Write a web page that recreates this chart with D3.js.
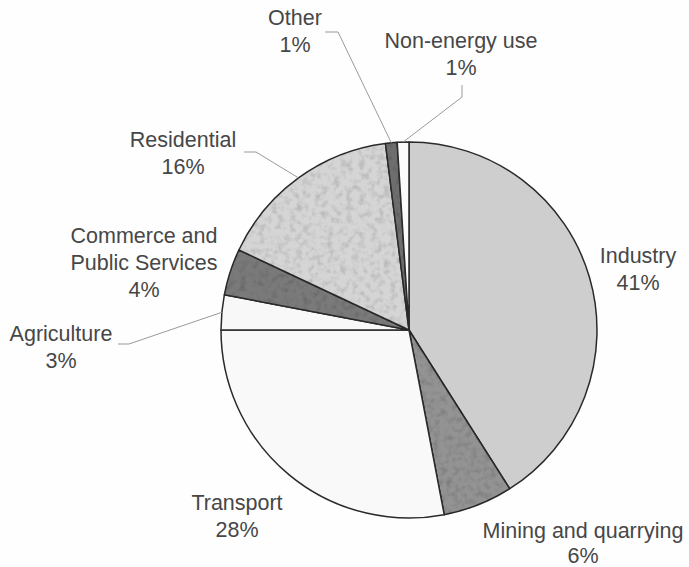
<!DOCTYPE html>
<html>
<head>
<meta charset="utf-8">
<script src="https://cdn.jsdelivr.net/npm/d3@7/dist/d3.min.js"></script>
<style>
  html, body { margin: 0; padding: 0; background: #fefefe; }
  svg { display: block; }
  text { font-family: "Liberation Sans", Arial, sans-serif; font-size: 21.5px; fill: #474747; }
</style>
</head>
<body>
<svg id="chart" width="689" height="567"></svg>
<script>
// Final energy consumption by sector (share, %)
const sectors = ["Industry", "Mining and quarrying", "Transport", "Agriculture",
                 "Commerce and\nPublic Services", "Residential", "Other", "Non-energy use"];
const shares  = [41, 6, 28, 3, 4, 16, 1, 1];

// Fill of each slice and whether it gets the mottled texture
const fills   = ["#cecece", "#939393", "#f9f9f9", "#f8f8f8", "#7a7a7a", "#d5d5d5", "#6e6e6e", "#fbfbfb"];
const mottled = [false, true, false, false, true, true, true, false];

// Label anchors (centre of first text line), line spacing and leader-line elbows
const labelPos = [
  [638, 255], [583, 530], [237, 502], [61, 333],
  [144, 235], [183, 139], [295, 17], [461, 40]
];
const lineGap = [27, 25, 27, 27, 27, 27, 27, 27];
const leaders = [
  null, null, null,
  [[118, 344], [129, 344]],
  null,
  [[244, 152], [256, 152]],
  [[325, 32], [338, 32]],
  [[462, 85], [462, 97]]
];

const svg = d3.select("#chart");
const cx = 409, cy = 330, R = 188;

// Grainy texture for the patterned slices
const defs = svg.append("defs");
const f = defs.append("filter").attr("id", "mottle")
  .attr("x", "-5%").attr("y", "-5%").attr("width", "110%").attr("height", "110%");
f.append("feTurbulence").attr("type", "fractalNoise").attr("baseFrequency", 0.16)
  .attr("numOctaves", 2).attr("seed", 4).attr("result", "noise");
f.append("feColorMatrix").attr("in", "noise").attr("type", "matrix")
  .attr("values", "0 0 0 0 0  0 0 0 0 0  0 0 0 0 0  0 0 0 -2.2 1.25")
  .attr("result", "spots");
f.append("feComposite").attr("in", "spots").attr("in2", "SourceGraphic")
  .attr("operator", "in").attr("result", "spotsIn");
f.append("feComponentTransfer").attr("in", "spotsIn").attr("result", "spotsSoft")
  .append("feFuncA").attr("type", "linear").attr("slope", 0.3);
const m = f.append("feMerge");
m.append("feMergeNode").attr("in", "SourceGraphic");
m.append("feMergeNode").attr("in", "spotsSoft");

const pie = d3.pie().sort(null).value(d => d).startAngle(0).endAngle(2 * Math.PI);
const arcs = pie(shares);
const arc = d3.arc().innerRadius(0).outerRadius(R);

const g = svg.append("g").attr("transform", `translate(${cx},${cy})`);

g.selectAll("path.slice")
  .data(arcs)
  .join("path")
  .attr("class", "slice")
  .attr("d", arc)
  .attr("fill", (d, i) => fills[i])
  .attr("filter", (d, i) => mottled[i] ? "url(#mottle)" : null)
  .attr("stroke", "#2a2a2a")
  .attr("stroke-width", 1.5)
  .attr("stroke-linejoin", "round");

// Leader lines from labels to the slice edge
arcs.forEach((d, i) => {
  if (!leaders[i]) return;
  const mid = (d.startAngle + d.endAngle) / 2;
  const ex = cx + Math.sin(mid) * R, ey = cy - Math.cos(mid) * R;
  const pts = leaders[i].concat([[ex, ey]]);
  svg.append("path")
    .attr("d", d3.line()(pts))
    .attr("fill", "none")
    .attr("stroke", "#9a9a9a")
    .attr("stroke-width", 1);
});

// Category labels with percentage below
sectors.forEach((name, i) => {
  const lines = name.split("\n").concat([shares[i] + "%"]);
  const t = svg.append("text")
    .attr("text-anchor", "middle")
    .attr("x", labelPos[i][0])
    .attr("y", labelPos[i][1] + 7.5);
  lines.forEach((ln, k) => {
    t.append("tspan").attr("x", labelPos[i][0]).attr("dy", k === 0 ? 0 : lineGap[i]).text(ln);
  });
});
</script>
</body>
</html>
